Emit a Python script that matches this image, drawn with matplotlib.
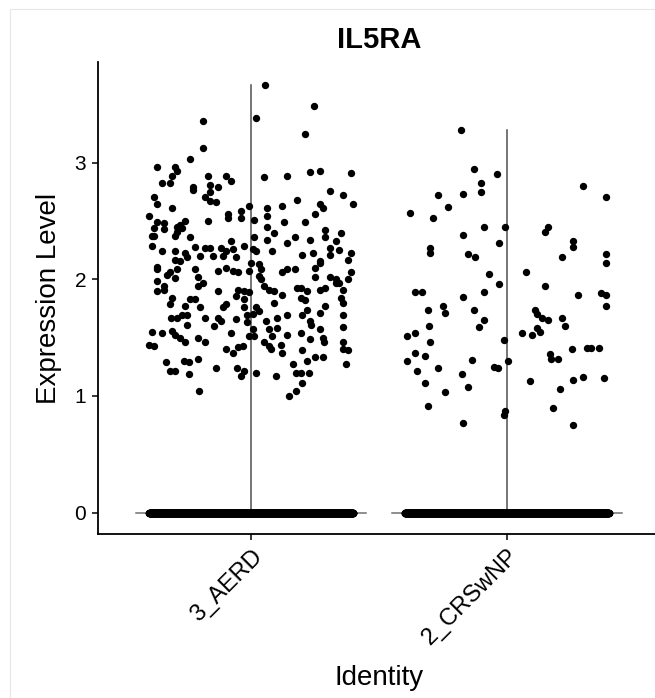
import numpy as np
import matplotlib
matplotlib.use('Agg')
import matplotlib.pyplot as plt
from matplotlib.patches import Rectangle

plt.rcParams['font.family'] = ['Liberation Sans', 'DejaVu Sans']

# 数据：非零表达值及其水平抖动
gene = 'IL5RA'
identities = ['3_AERD', '2_CRSwNP']

aerd_jitter = [
    0.055, 0.247, -0.19, 0.02, 0.21, -0.19, -0.24, -0.37, -0.30, -0.29, -0.31, -0.35, -0.32,
    -0.17, -0.10, -0.08, 0.05, 0.14, 0.23, 0.27, 0.39, -0.23, -0.23, -0.16, -0.13, -0.16,
    0.31, -0.38, -0.37, -0.18, -0.16, -0.14, 0.18, 0.36, 0.40, 0.27, 0.28, -0.31, -0.04,
    -0.01, 0.06, 0.12, -0.40, -0.09, -0.09, -0.04, 0.01, 0.06, 0.25, -0.37, -0.34, -0.26,
    -0.28, -0.29, -0.38, -0.34, -0.27, -0.17, 0.06, 0.13, 0.21, -0.29, 0.29, 0.35, 0.09,
    -0.39, -0.38, -0.30, -0.24, -0.08, 0.012, 0.06, 0.14, 0.17, 0.23, 0.29, 0.33,
    -0.39, -0.35, -0.30, -0.30, -0.28, -0.25, -0.26, -0.22, -0.18, -0.16, -0.20, -0.15,
    -0.12, -0.10, -0.11, -0.07, -0.06, -0.03, 0.005, 0.02, 0.08, 0.20, 0.24, 0.27, 0.31,
    0.31, 0.345, 0.39, 0.38,
    -0.37, -0.37, -0.33, -0.32, -0.29, -0.30, -0.22, -0.21, -0.19, -0.13, -0.10, -0.07,
    -0.05, 0.00, -0.008, 0.03, 0.04, 0.03, 0.04, 0.12, 0.14, 0.17, 0.25, 0.25, 0.27, 0.31,
    0.33, 0.345, 0.38, 0.39,
    -0.37, -0.34, -0.37, -0.34, -0.31, -0.32, -0.26, -0.24, -0.22, -0.20, -0.21, -0.13,
    -0.10, -0.11, -0.06, -0.05, -0.03, -0.03, -0.008, 0.05, 0.07, 0.09, 0.09, 0.12, 0.18,
    0.195, 0.22, 0.195, 0.21, 0.27, 0.29, 0.29, 0.35, 0.36, 0.36, 0.33,
    -0.315, -0.29, -0.27, -0.25, -0.25, -0.18, -0.145, -0.12, -0.13, -0.06, -0.03, -0.015,
    0.005, -0.015, 0.018, 0.03, 0.057, 0.10, 0.14, 0.20, 0.22, 0.23, 0.234, 0.27, 0.27,
    0.36, 0.36,
    -0.39, -0.35, -0.31, -0.30, -0.28, -0.26, -0.21, -0.18, -0.08, -0.008, 0.012, 0.005,
    0.05, 0.07, 0.08, 0.10, 0.116, 0.14, 0.195, 0.23, 0.28, 0.286, 0.36, 0.38, 0.36,
    -0.40, -0.38, -0.10, -0.07, -0.05, -0.034, 0.07, 0.077, 0.12, 0.20, 0.25, 0.28, 0.22,
    -0.335, -0.263, -0.243, -0.21, -0.14, -0.054, -0.028, -0.04, 0.018, 0.097, 0.162,
    0.175, 0.195, 0.227, 0.20, 0.371, -0.32, -0.30, -0.243, -0.204, 0.149, 0.175,
]
aerd_values = [
    3.67, 3.49, 3.36, 3.38, 3.25, 3.13, 3.03, 2.96, 2.96, 2.93, 2.89, 2.83, 2.83,
    2.89, 2.89, 2.84, 2.88, 2.89, 2.92, 2.93, 2.91, 2.79, 2.77, 2.81, 2.79, 2.75,
    2.76, 2.71, 2.65, 2.71, 2.67, 2.66, 2.68, 2.72, 2.65, 2.65, 2.61, 2.61, 2.59,
    2.63, 2.61, 2.63, 2.54, 2.56, 2.53, 2.53, 2.51, 2.54, 2.56, 2.49, 2.48, 2.50,
    2.47, 2.45, 2.44, 2.43, 2.44, 2.50, 2.45, 2.49, 2.49, 2.41, 2.42, 2.40, 2.40,
    2.37, 2.37, 2.37, 2.36, 2.33, 2.36, 2.34, 2.31, 2.36, 2.34, 2.36, 2.33,
    2.29, 2.24, 2.24, 2.17, 2.16, 2.19, 2.23, 2.28, 2.27, 2.27, 2.20, 2.20,
    2.27, 2.24, 2.20, 2.26, 2.19, 2.29, 2.26, 2.24, 2.24, 2.21, 2.23, 2.16, 2.27,
    2.21, 2.25, 2.23, 2.17,
    2.11, 2.09, 2.04, 2.06, 2.09, 2.01, 2.09, 2.02, 1.97, 2.07, 2.10, 2.07,
    2.06, 2.14, 2.07, 2.13, 2.09, 2.03, 2.00, 2.06, 2.09, 2.09, 2.10, 2.02, 2.14, 2.02,
    2.00, 1.97, 2.00, 2.06,
    1.99, 1.94, 1.90, 1.91, 1.84, 1.79, 1.77, 1.83, 1.83, 1.76, 1.94, 1.90,
    1.79, 1.76, 1.86, 1.91, 1.90, 1.83, 1.89, 1.94, 1.91, 1.90, 1.80, 1.87, 1.93,
    1.93, 1.90, 1.84, 1.82, 1.91, 1.93, 1.77, 1.84, 1.80, 1.91, 1.97,
    1.67, 1.67, 1.69, 1.69, 1.61, 1.67, 1.60, 1.64, 1.67, 1.66, 1.76, 1.69,
    1.70, 1.63, 1.76, 1.73, 1.64, 1.67, 1.69, 1.69, 1.74, 1.64, 1.61, 1.71, 1.57,
    1.69, 1.59,
    1.55, 1.54, 1.56, 1.52, 1.50, 1.46, 1.50, 1.46, 1.54, 1.51, 1.51, 1.57,
    1.46, 1.57, 1.51, 1.58, 1.44, 1.52, 1.54, 1.49, 1.50, 1.46, 1.46, 1.39, 1.40,
    1.44, 1.43, 1.40, 1.37, 1.42, 1.43, 1.43, 1.40, 1.37, 1.39, 1.33, 1.33, 1.30,
    1.29, 1.30, 1.29, 1.32, 1.24, 1.24, 1.21, 1.17, 1.20, 1.17, 1.27,
    1.20, 1.20, 1.20, 1.11, 1.27, 1.21, 1.21, 1.19, 1.04, 1.00, 1.04,
]

crswnp_jitter = [
    -0.18, -0.13, -0.04, -0.10, -0.10, -0.17, -0.27, -0.23, -0.38, -0.29, 0.30, 0.39,
    -0.09, -0.005, -0.17, -0.03, -0.30, -0.30, -0.15, -0.125, 0.15, 0.16, 0.26, 0.26,
    0.215, 0.39, 0.39,
    -0.07, 0.075, -0.03, -0.36, -0.33, -0.17, -0.09, 0.15, 0.28, 0.37, 0.39, 0.39,
    -0.31, -0.25, -0.24, -0.13, -0.09, -0.11, -0.305, -0.39, -0.36, -0.30, -0.36, -0.32,
    -0.39, -0.35, -0.27, -0.32, -0.135, -0.175, -0.15, -0.24, -0.31, -0.17, -0.05, -0.034,
    -0.01, 0.006, -0.012, -0.008, 0.11, 0.12, 0.14, 0.16, 0.215, 0.23, 0.12, 0.13, 0.06,
    0.10, 0.17, 0.175, 0.20, 0.255, 0.315, 0.33, 0.36, 0.09, 0.21, 0.26, 0.30, 0.38,
    0.18, 0.26,
]
crswnp_values = [
    3.28, 2.95, 2.90, 2.83, 2.75, 2.73, 2.72, 2.62, 2.57, 2.53, 2.80, 2.71,
    2.45, 2.45, 2.38, 2.31, 2.27, 2.23, 2.22, 2.19, 2.41, 2.45, 2.33, 2.28,
    2.19, 2.22, 2.14,
    2.05, 2.06, 1.96, 1.89, 1.89, 1.85, 1.89, 1.94, 1.87, 1.88, 1.87, 1.77,
    1.74, 1.77, 1.71, 1.74, 1.65, 1.59, 1.60, 1.51, 1.54, 1.46, 1.37, 1.34,
    1.30, 1.21, 1.24, 1.11, 1.31, 1.19, 1.08, 1.03, 0.91, 0.77, 1.25, 1.24,
    1.48, 1.30, 0.84, 0.87, 1.74, 1.70, 1.67, 1.65, 1.67, 1.60, 1.58, 1.55, 1.54,
    1.52, 1.36, 1.32, 1.32, 1.40, 1.41, 1.41, 1.41, 1.13, 1.06, 1.14, 1.16, 1.15,
    0.90, 0.75,
]

# 零表达细胞数量（大致估计）
n_zero = [2500, 2500]

groups = [(aerd_jitter, aerd_values), (crswnp_jitter, crswnp_values)]

fig = plt.figure(figsize=(6.55, 6.98), dpi=100)
# 截图的浅灰边框
fig.patches.append(Rectangle((10 / 655, -0.1), 1.2, (698 - 9) / 698 + 0.1,
                             transform=fig.transFigure, fill=False,
                             edgecolor='#e6e6e6', linewidth=0.8))

ax = fig.add_axes([98 / 655, 164 / 698, 562 / 655, 472 / 698])

for i, (jit, vals) in enumerate(groups):
    pos = i + 1
    vals = np.array(vals)
    # 小提琴图几乎退化成两条线
    ax.plot([pos, pos], [0, vals.max()], color='#505050', lw=1.1, zorder=1)
    ax.plot([pos - 0.45, pos + 0.45], [0, 0], color='#707070', lw=1.1, zorder=1)
    zx = pos + np.linspace(-0.4, 0.4, n_zero[i])
    ax.scatter(zx, np.zeros(n_zero[i]), s=28, color='black', linewidths=0, zorder=2)
    ax.scatter(pos + np.array(jit), vals, s=28, color='black', linewidths=0, zorder=2)

ax.set_xlim(0.4, 2.6)
ax.set_ylim(-0.184, 3.864)
ax.set_xticks([1, 2])
ax.set_xticklabels(identities, rotation=45, ha='right', va='top',
                   rotation_mode='anchor', fontsize=17)
ax.set_yticks([0, 1, 2, 3])
ax.tick_params(axis='y', labelsize=15, length=4, width=1.1, pad=4.5)
ax.tick_params(axis='x', length=4, width=1.1, pad=4)

for s in ['top', 'right']:
    ax.spines[s].set_visible(False)
for s in ['left', 'bottom']:
    ax.spines[s].set_linewidth(1.3)

ax.set_title(gene, fontsize=21, fontweight='bold', pad=10)
ax.set_ylabel('Expression Level', fontsize=20)
ax.set_xlabel('Identity', fontsize=20)
ax.yaxis.set_label_coords(-0.064, 0.5)
ax.xaxis.set_label_coords(0.5, -0.278)

plt.savefig('out.png', dpi=100)
